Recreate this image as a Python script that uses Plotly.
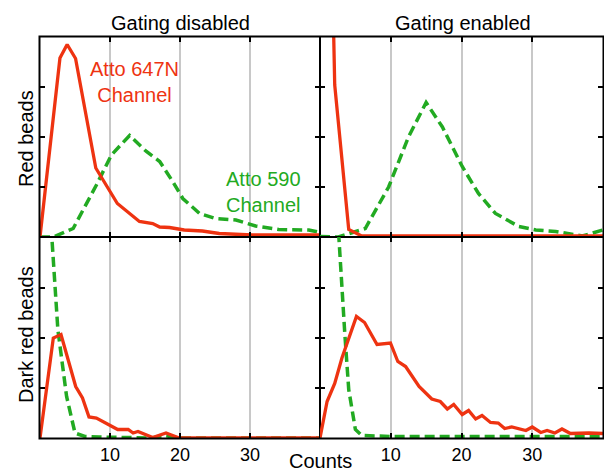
import plotly.graph_objects as go

# ---- data ----
col_titles = ["Gating disabled", "Gating enabled"]
row_titles = ["Red beads", "Dark red beads"]
x_tickvals = [10, 20, 30]
x_ticktext = ["10", "20", "30"]

# Row 1 (Red beads), gating disabled
tl_red_x = [0, 2.85, 3.88, 5.08, 7.97, 11.05, 14.2, 16.1, 17.1, 18.5, 20.6, 23.2, 25.6, 30.3, 40]
tl_red_y = [0, 3.58, 3.85, 3.57, 1.38, 0.67, 0.31, 0.27, 0.2, 0.19, 0.14, 0.12, 0.07, 0.04, 0.04]
tl_grn_x = [0, 1.9, 4.74, 8.06, 10.2, 12.8, 15.2, 17.1, 19.0, 20.4, 22.8, 25.1, 28.0, 30.8, 34.1, 38.4, 40]
tl_grn_y = [0, 0, 0.17, 1.04, 1.64, 2.03, 1.71, 1.51, 1.1, 0.77, 0.47, 0.37, 0.34, 0.22, 0.15, 0.14, 0.09]

# Row 1 (Red beads), gating enabled
tr_red_x = [0, 1, 2.08, 4.06, 5.9, 40]
tr_red_y = [20, 10.4, 3.04, 0.15, 0.02, 0.02]
tr_grn_x = [0, 2.6, 6.4, 9.7, 12.5, 15.0, 17.3, 20.1, 22.4, 24.8, 28.1, 30.5, 33.3, 37.1, 40]
tr_grn_y = [0.01, 0, 0.17, 1.0, 2.0, 2.69, 2.2, 1.41, 0.87, 0.47, 0.21, 0.14, 0.11, 0.02, 0.14]

# Row 2 (Dark red beads), gating disabled
bl_red_x = [0, 1.9, 3.0, 5.1, 6.07, 7.0, 8.06, 11.1, 12.6, 13.3, 14.0, 16.1, 18.0, 19.9, 40]
bl_red_y = [0, 2.0, 2.07, 1.03, 0.8, 0.42, 0.4, 0.17, 0.17, 0.1, 0.13, 0.01, 0.1, 0, 0]
bl_grn_x = [0, 1, 2.55, 3.8, 5.0, 6.4, 8.5, 12, 16, 17.7, 20, 40]
bl_grn_y = [6, 5.5, 2.17, 0.83, 0.1, 0.03, 0.02, 0.01, 0, 0.05, 0, 0]

# Row 2 (Dark red beads), gating enabled
br_red_x = [0, 1.0, 2.08, 3.1, 5.15, 6.3, 8.06, 9.96, 11.0, 12.1, 14.0, 15.8, 17.0, 18.0, 18.9,
            20.1, 21.0, 22.0, 22.9, 24.1, 25.2, 26.1, 27.1, 29.1, 30.0, 31.2, 32.1, 33.2, 34.2,
            35.4, 38.0, 40]
br_red_y = [0, 0.73, 1.09, 1.6, 2.43, 2.31, 1.87, 1.9, 1.53, 1.43, 1.03, 0.78, 0.73, 0.58, 0.67,
            0.47, 0.55, 0.38, 0.45, 0.31, 0.3, 0.19, 0.22, 0.15, 0.22, 0.11, 0.15, 0.1, 0.18,
            0.09, 0.1, 0.09]
br_grn_x = [0, 1, 2, 3.5, 4.06, 5.0, 5.9, 10, 20, 30, 40]
br_grn_y = [8, 7, 5.55, 2.1, 0.97, 0.17, 0.05, 0.03, 0.03, 0.03, 0.03]

RED = "#EE3311"
GREEN = "#22AA22"
FONT = "Liberation Sans, Arial, sans-serif"
W, H = 604, 468

fig = go.Figure()

panels = [
    ("x", "y", tl_red_x, tl_red_y, tl_grn_x, tl_grn_y),
    ("x2", "y2", tr_red_x, tr_red_y, tr_grn_x, tr_grn_y),
    ("x3", "y3", bl_red_x, bl_red_y, bl_grn_x, bl_grn_y),
    ("x4", "y4", br_red_x, br_red_y, br_grn_x, br_grn_y),
]
for xa, ya, rx, ry, gx, gy in panels:
    fig.add_trace(go.Scatter(x=gx, y=gy, mode="lines", xaxis=xa, yaxis=ya,
                             line=dict(color=GREEN, width=3.5, dash="10px,5px"),
                             showlegend=False, hoverinfo="skip"))
    fig.add_trace(go.Scatter(x=rx, y=ry, mode="lines", xaxis=xa, yaxis=ya,
                             line=dict(color=RED, width=3.3),
                             showlegend=False, hoverinfo="skip"))

X0, XM, X1 = 40, 320, 603
Y0, YM, Y1 = 37, 237, 438
xl = [X0 / W, XM / W]
xr = [XM / W, X1 / W]
yt = [(H - YM) / H, (H - Y0) / H]
yb = [(H - Y1) / H, (H - YM) / H]

def xaxis(domain, anchor, labels):
    return dict(domain=domain, anchor=anchor, range=[0, 40], tickvals=x_tickvals,
                ticktext=x_ticktext, showticklabels=labels, ticks="inside", ticklen=5,
                tickwidth=1.5, tickcolor="black", showline=True, linecolor="black",
                linewidth=1, mirror="ticks", showgrid=True, gridcolor="#c8c8c8",
                gridwidth=1.5, zeroline=False, ticklabelstandoff=0,
                tickfont=dict(family=FONT, size=18, color="black"))

def yaxis(domain, anchor, top):
    return dict(domain=domain, anchor=anchor, range=[0, top], tickvals=[1, 2, 3],
                showticklabels=False, ticks="inside", ticklen=5, tickwidth=1.5,
                tickcolor="black", showline=True, linecolor="black", linewidth=1,
                mirror="ticks", showgrid=False, zeroline=False)

fig.update_layout(
    width=W, height=H,
    margin=dict(l=0, r=0, t=0, b=0),
    paper_bgcolor="white", plot_bgcolor="white",
    xaxis=xaxis(xl, "y", False),
    xaxis2=xaxis(xr, "y2", False),
    xaxis3=xaxis(xl, "y3", True),
    xaxis4=xaxis(xr, "y4", True),
    yaxis=yaxis(yt, "x", 4.0),
    yaxis2=yaxis(yt, "x2", 4.0),
    yaxis3=yaxis(yb, "x3", 4.02),
    yaxis4=yaxis(yb, "x4", 4.02),
    font=dict(family=FONT, color="black"),
)

# outer frame
fig.add_shape(type="rect", xref="paper", yref="paper",
              x0=(X0 - 0.5) / W, x1=(X1 + 0.5) / W,
              y0=(H - Y1 - 0.5) / H, y1=(H - Y0 + 0.5) / H,
              line=dict(color="black", width=2), fillcolor="rgba(0,0,0,0)", layer="above")

def ann(text, px, py, size=20, color="black", angle=0):
    fig.add_annotation(text=text, x=px / W, y=1 - py / H, xref="paper", yref="paper",
                       xanchor="center", yanchor="middle", showarrow=False,
                       textangle=angle, font=dict(family=FONT, size=size, color=color))

ann(col_titles[0], 180, 23)
ann(col_titles[1], 463, 23)
ann(row_titles[0], 26, 139, angle=-90)
ann(row_titles[1], 26, 335, angle=-90)
ann("Counts", 320, 461)
ann("Atto 647N<br>Channel", 134, 82, color=RED)
ann("Atto 590<br>Channel", 263, 192, color=GREEN)

fig.write_html(
    "out.html",
    config={"displayModeBar": False},
    post_script="document.body.style.margin='0';document.body.style.padding='0';"
                "document.body.style.overflow='hidden';",
)
